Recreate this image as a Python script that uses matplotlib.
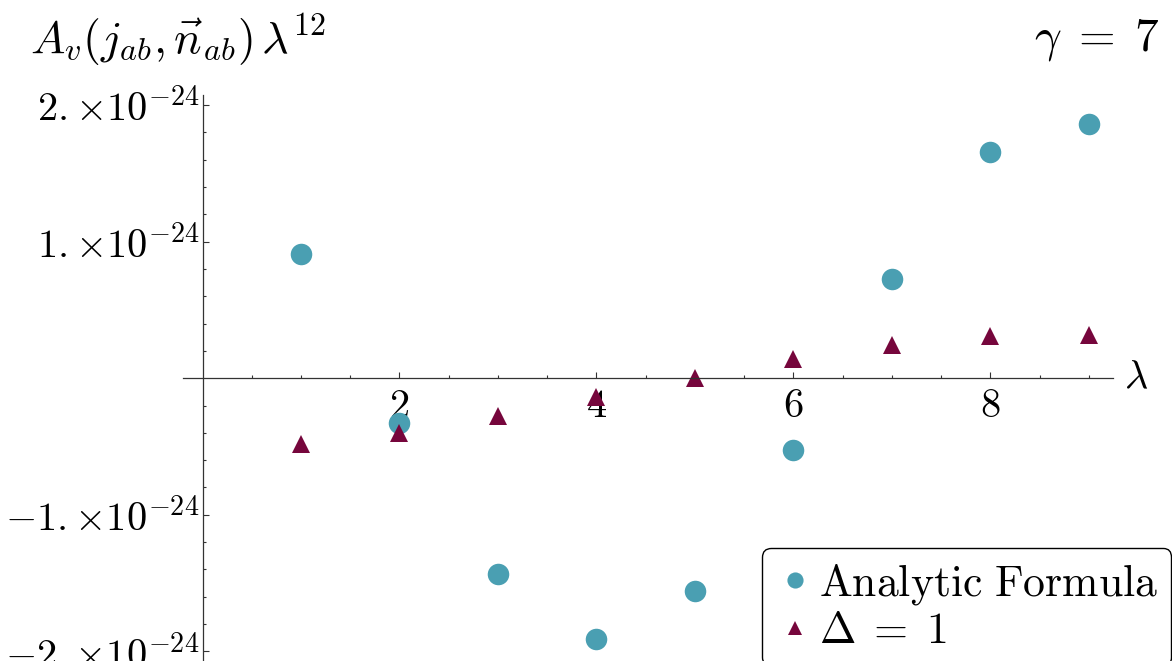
"""Scatter of A_v(j_ab, n_ab) * lambda^12 vs lambda, Mathematica-style axes."""

import numpy as np
import matplotlib
matplotlib.use("Agg")
import matplotlib.pyplot as plt
from matplotlib.ticker import FixedLocator, FixedFormatter

plt.rcParams["mathtext.fontset"] = "cm"
plt.rcParams["font.family"] = ["DejaVu Serif"]

# Data (in units of 1e-24)
SCALE = 1e-24
lam = [1, 2, 3, 4, 5, 6, 7, 8, 9]
analytic = [0.908, -0.33, -1.431, -1.910, -1.558, -0.527, 0.725, 1.658, 1.861]
delta_one = [-0.48, -0.40, -0.28, -0.137, 0.0, 0.139, 0.244, 0.308, 0.317]

ytick_vals = [-2, -1, 1, 2]
ytick_labels = [r"$-2.{\times}10^{-24}$", r"$-1.{\times}10^{-24}$",
                r"$1.{\times}10^{-24}$", r"$2.{\times}10^{-24}$"]
xtick_vals = [2, 4, 6, 8]

# Style
COLOR_ANALYTIC = "#4a9fb2"
COLOR_DELTA = "#76063c"
AXIS_COLOR = "#333333"
FS = 29

fig = plt.figure(figsize=(11.72, 6.61), dpi=100)
ax = fig.add_axes([0.156, 0.0, 0.794, 0.8557])

ax.plot(lam, np.array(analytic) * SCALE, "o", color=COLOR_ANALYTIC,
        markersize=15.5, markeredgewidth=0, label=r"$\mathrm{Analytic\ Formula}$",
        clip_on=False)
ax.plot(lam, np.array(delta_one) * SCALE, "^", color=COLOR_DELTA,
        markersize=13, markeredgewidth=0, label=r"$\Delta\;=\;1$", clip_on=False)

ax.set_xlim(-0.2, 9.25)
ax.set_ylim(-2.07 * SCALE, 2.07 * SCALE)

# axes through the origin
for side in ("top", "right"):
    ax.spines[side].set_visible(False)
ax.spines["left"].set_position(("data", 0))
ax.spines["bottom"].set_position(("data", 0))
for side in ("left", "bottom"):
    ax.spines[side].set_color(AXIS_COLOR)
    ax.spines[side].set_linewidth(0.9)

ax.xaxis.set_major_locator(FixedLocator(xtick_vals))
ax.xaxis.set_major_formatter(FixedFormatter([rf"${v}$" for v in xtick_vals]))
ax.xaxis.set_minor_locator(FixedLocator([v / 2 for v in range(1, 19) if v % 4]))
ax.yaxis.set_major_locator(FixedLocator([v * SCALE for v in ytick_vals]))
ax.yaxis.set_major_formatter(FixedFormatter(ytick_labels))
ax.yaxis.set_minor_locator(FixedLocator(
    [v / 5 * SCALE for v in range(-10, 11) if v % 5]))

ax.tick_params(which="both", direction="in", color=AXIS_COLOR, width=0.8,
               labelsize=FS)
ax.tick_params(which="major", length=4.5)
ax.tick_params(which="minor", length=2.5)
ax.tick_params(axis="x", pad=7)
ax.tick_params(axis="y", pad=2)

ax.text(9.36, 0, r"$\lambda$", fontsize=FS, ha="left", va="center",
        clip_on=False)

fig.text(30 / 1172, 1 - 40 / 661,
         r"$A_v(j_{ab},\vec{n}_{ab})\,\lambda^{12}$",
         fontsize=33, ha="left", va="center")
fig.text(1160 / 1172, 1 - 40 / 661, r"$\gamma\;=\;7$", fontsize=34,
         ha="right", va="center")

leg = ax.legend(loc="upper left", bbox_to_anchor=(762 / 1172, 1 - 548 / 661),
                bbox_transform=fig.transFigure, fontsize=31.5,
                frameon=True, fancybox=True, edgecolor="black",
                handletextpad=0.1, handlelength=0.9, borderpad=0.3,
                labelspacing=0.05, borderaxespad=0, markerscale=0.75)
leg.get_frame().set_linewidth(1.0)
leg.get_frame().set_alpha(1)

fig.savefig("out.png", dpi=100)
